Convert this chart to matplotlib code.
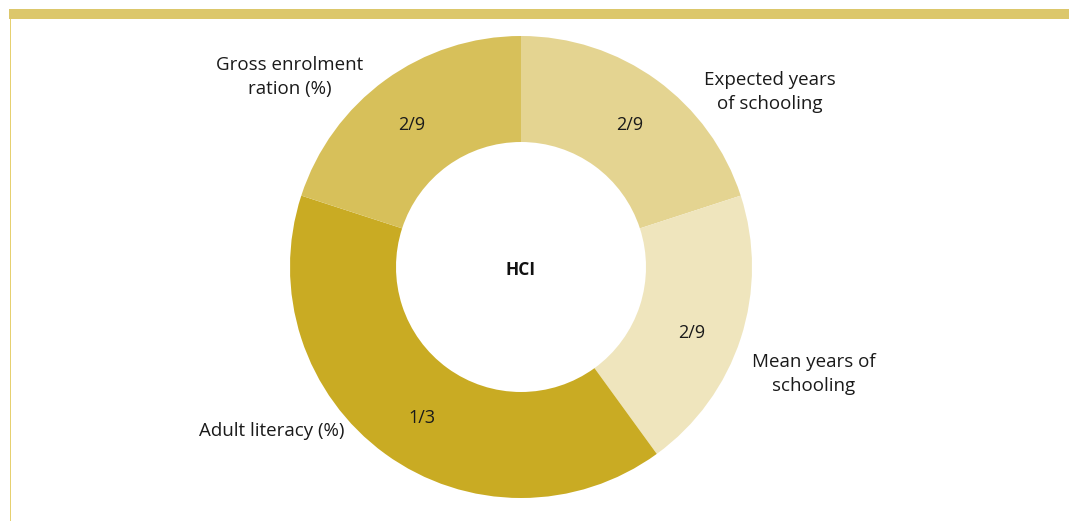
import matplotlib
matplotlib.use("Agg")
import matplotlib.pyplot as plt
from matplotlib.patches import Rectangle

plt.rcParams['font.family'] = ['Open Sans', 'DejaVu Sans']

categories = ["Expected years\nof schooling", "Mean years of\nschooling", "Adult literacy (%)", "Gross enrolment\nration (%)"]
shares = [20, 20, 40, 20]
weight_labels = ["2/9", "2/9", "1/3", "2/9"]
colors = ["#e4d491", "#efe5bd", "#c9ab23", "#d7c05a"]
center_label = "HCI"

W, H = 1069, 521
fig = plt.figure(figsize=(W / 100, H / 100), dpi=100)
ax = fig.add_axes([0, 0, 1, 1])

cx, cy = 521, H - 267
R, ring = 231, 106

wedges, _ = ax.pie(shares, colors=colors, startangle=90, counterclock=False,
                   radius=R, center=(cx, cy), frame=True,
                   wedgeprops=dict(width=ring, linewidth=0))

# weight labels inside the ring (pixel positions from top-left)
weight_pos = [(630, 125), (692, 333), (422, 418), (412, 125)]
for (x, y), lab in zip(weight_pos, weight_labels):
    ax.text(x, H - y, lab, ha="center", va="center", fontsize=13, color="#1a1a1a")

ax.text(cx, H - 270, center_label, ha="center", va="center", fontsize=12.5,
        fontweight="bold", color="#111111")

# outer category labels
label_pos = [(770, 92), (814, 374), (272, 431), (290, 77)]
for (x, y), txt in zip(label_pos, categories):
    ax.text(x, H - y, txt, ha="center", va="center", fontsize=13.5,
            color="#1a1a1a", linespacing=1.4)

# decorative frame
ax.add_patch(Rectangle((9, H - 19), W - 9, 10, facecolor="#dcc76b", edgecolor="none"))
ax.add_patch(Rectangle((9.5, 0), 1.8, H - 19, facecolor="#e6d070", edgecolor="none"))

ax.set_xlim(0, W)
ax.set_ylim(0, H)
ax.set_aspect("auto")
ax.axis("off")

fig.savefig("out.png", dpi=100)
